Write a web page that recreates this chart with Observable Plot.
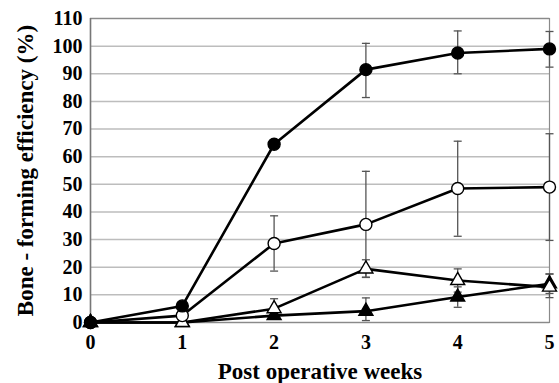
<!DOCTYPE html>
<html><head><meta charset="utf-8">
<script src="https://cdn.jsdelivr.net/npm/d3@7"></script>
<script src="https://cdn.jsdelivr.net/npm/@observablehq/plot@0.6"></script>
<style>
body{margin:0;background:#fff}
</style>
</head><body><div id="chart"></div>
<script>
const weeks = [0, 1, 2, 3, 4, 5];
const yTicks = [0, 10, 20, 30, 40, 50, 60, 70, 80, 90, 100, 110];

const filledCircle   = [0, 6, 64.5, 91.5, 97.5, 99];
const filledCircleLo = [null, null, null, 81.4, 90, 92.4];
const filledCircleHi = [null, null, null, 101, 105.5, 105.3];

const openCircle   = [0, 2.5, 28.6, 35.5, 48.5, 49];
const openCircleLo = [null, null, 18.6, 16.3, 31.2, 29.7];
const openCircleHi = [null, null, 38.6, 54.7, 65.6, 68.3];

const openTriangle   = [0, 0, 5, 19.4, 15.2, 12.8];
const openTriangleLo = [null, null, 1.4, 16.4, 11, 9];
const openTriangleHi = [null, null, 8.6, 22.7, 19.4, 17.6];

const filledTriangle   = [0, 0, 2.5, 4.1, 9.2, 14];
const filledTriangleLo = [null, null, null, 0.7, 5.5, 10.5];
const filledTriangleHi = [null, null, null, 8.9, 12.9, 17.5];

const seriesDefs = [
  {name: "filledTriangle", v: filledTriangle, lo: filledTriangleLo, hi: filledTriangleHi, symbol: "triangle", fill: "black"},
  {name: "openTriangle", v: openTriangle, lo: openTriangleLo, hi: openTriangleHi, symbol: "triangle", fill: "white"},
  {name: "openCircle", v: openCircle, lo: openCircleLo, hi: openCircleHi, symbol: "circle", fill: "white"},
  {name: "filledCircle", v: filledCircle, lo: filledCircleLo, hi: filledCircleHi, symbol: "circle", fill: "black"}
];

const rows = seriesDefs.flatMap(s => weeks.map((w, i) => ({
  series: s.name, week: w, value: s.v[i], lo: s.lo[i], hi: s.hi[i], symbol: s.symbol, fill: s.fill
})));
const circleRows = rows.filter(d => d.symbol === "circle");
const triRows = rows.filter(d => d.symbol === "triangle");
const errRows = rows.filter(d => d.lo != null || d.hi != null);
const capRows = errRows.flatMap(d => [d.lo, d.hi].filter(v => v != null).map(v => ({week: d.week, y: v})));

const capSymbol = {draw(ctx, size) { const r = Math.sqrt(size / Math.PI); ctx.moveTo(-r, 0); ctx.lineTo(r, 0); }};
const FONT = "Liberation Serif";

const chart = Plot.plot({
  width: 559,
  height: 383,
  marginLeft: 90,
  marginRight: 10,
  marginTop: 18,
  marginBottom: 61,
  x: {domain: [0, 5], ticks: weeks},
  y: {domain: [0, 110], ticks: yTicks},
  marks: [
    Plot.ruleY(yTicks, {stroke: "#bdbdbd", strokeWidth: 1.5}),
    Plot.frame({stroke: "#8a8a8a", strokeWidth: 1.2}),
    Plot.ruleX([0], {stroke: "#777", strokeWidth: 1.5}),
    Plot.ruleX(errRows, {x: "week", y1: d => d.lo ?? d.value, y2: d => d.hi ?? d.value, stroke: "#555", strokeWidth: 1.3}),
    Plot.dot(capRows, {x: "week", y: "y", symbol: capSymbol, r: 4, stroke: "#555", strokeWidth: 1.3}),
    Plot.line(rows, {x: "week", y: "value", z: "series", stroke: "black", strokeWidth: 2.6}),
    Plot.dot(triRows, {x: "week", y: "value", symbol: "triangle", r: 5.2, fill: "fill", stroke: "black", strokeWidth: 1.4}),
    Plot.dot(circleRows, {x: "week", y: "value", symbol: "circle", r: 6, fill: "fill", stroke: "black", strokeWidth: 1.4}),
    Plot.axisY(yTicks, {tickSize: 0, tickPadding: 8, fontSize: 20, fontFamily: FONT, fontWeight: "bold", fill: "black", label: "Bone - forming efficiency (%)", labelAnchor: "center", labelOffset: 74, labelArrow: "none"}),
    Plot.axisX(weeks, {tickSize: 0, tickPadding: 12, fontSize: 20, fontFamily: FONT, fontWeight: "bold", fill: "black", label: "Post operative weeks", labelAnchor: "center", labelOffset: 56, labelArrow: "none"})
  ]
});
chart.querySelectorAll("[aria-label='y-axis label'] text, [aria-label='x-axis label'] text").forEach(t => t.setAttribute("font-size", 23));
document.getElementById("chart").append(chart);
</script>
</body></html>
